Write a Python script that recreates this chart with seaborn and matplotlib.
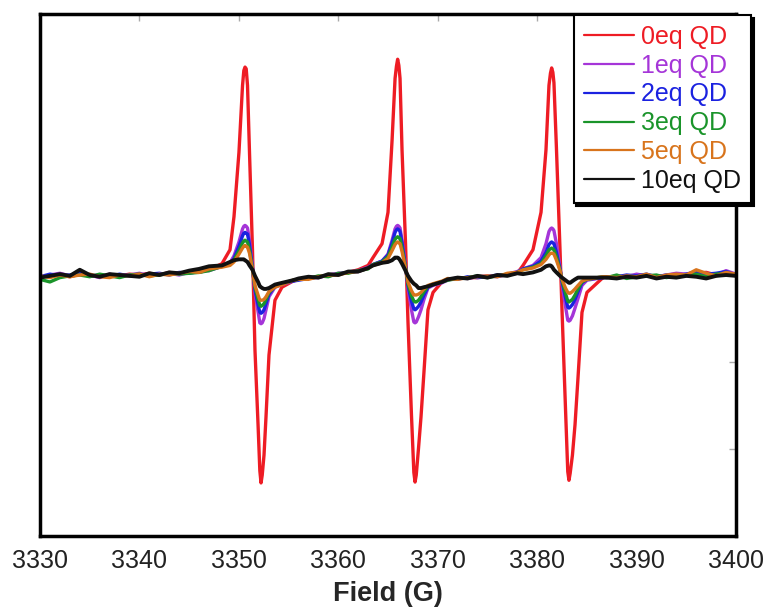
import matplotlib
matplotlib.use("Agg")
import matplotlib.pyplot as plt
import seaborn as sns
import pandas as pd

# Magnetic field axis (G): coarse on the baseline, dense across the three hyperfine lines
field = [
    3330, 3331, 3332, 3333, 3334, 3335, 3336, 3337, 3338, 3339, 3340, 3341, 3342, 3343, 3344, 3345, 3346, 3347,
    3348.30, 3349.11, 3349.51, 3350.01, 3350.37, 3350.50, 3350.62, 3350.74, 3350.87, 3351.07, 3351.37, 3351.62,
    3351.93, 3352.11, 3352.23, 3352.35, 3352.53, 3352.73, 3353.03, 3353.63, 3354.34, 3355.45,
    3356, 3357, 3358, 3359, 3360, 3361, 3362, 3363,
    3363.49, 3364.40, 3365.00, 3365.41, 3365.71, 3365.85, 3365.97, 3366.09, 3366.21, 3366.41, 3366.76, 3367.01,
    3367.36, 3367.60, 3367.72, 3367.84, 3368.07, 3368.32, 3368.62, 3369.02, 3369.53, 3370.43,
    3371, 3372, 3373, 3374, 3375, 3376, 3377, 3378,
    3378.58, 3379.58, 3380.39, 3380.89, 3381.19, 3381.34, 3381.46, 3381.58, 3381.69, 3381.94, 3382.30, 3382.50,
    3382.85, 3383.08, 3383.20, 3383.32, 3383.55, 3383.81, 3384.11, 3384.51, 3385.01, 3386.62,
    3387, 3388, 3389, 3390, 3391, 3392, 3393, 3394, 3395, 3396, 3397, 3398, 3399, 3400,
]

# EPR signal (arb. units) for each QD loading
eq0 = [
    -0.02, -0.01, 0.00, -0.02, 0.01, -0.01, -0.02, 0.00, -0.01, 0.01, 0.00, 0.02, 0.00, 0.03, 0.01, 0.04, 0.03, 0.06,
    0.13, 0.29, 0.67, 1.41, 2.18, 2.35, 2.39, 2.37, 2.18, 1.41, 0.29, -0.86, -1.72, -2.25, -2.39, -2.30, -2.07, -1.63,
    -0.92, -0.29, -0.14, -0.07,
    -0.05, -0.04, -0.02, -0.01, 0.01, 0.03, 0.06, 0.11,
    0.20, 0.36, 0.72, 1.55, 2.26, 2.40, 2.48, 2.41, 2.26, 1.44, 0.37, -0.54, -1.61, -2.27, -2.38, -2.30, -1.99, -1.63,
    -1.11, -0.40, -0.20, -0.08,
    -0.05, -0.04, -0.03, -0.03, -0.02, -0.01, 0.00, 0.02,
    0.11, 0.29, 0.72, 1.44, 2.18, 2.32, 2.38, 2.33, 2.21, 1.46, 0.29, -0.40, -1.53, -2.26, -2.36, -2.28, -2.07, -1.72,
    -1.18, -0.43, -0.20, -0.03,
    -0.02, -0.03, -0.01, -0.02, 0.00, -0.02, -0.01, 0.01, -0.01, 0.02, 0.03, 0.00, 0.02, 0.00,
]
eq1 = [
    -0.03, 0.00, 0.02, -0.01, 0.01, 0.00, -0.03, 0.01, -0.02, 0.00, 0.02, -0.01, 0.01, 0.02, 0.00, 0.03, 0.05, 0.05,
    0.10, 0.14, 0.22, 0.38, 0.53, 0.56, 0.57, 0.56, 0.54, 0.40, 0.10, -0.20, -0.42, -0.55, -0.56, -0.55, -0.50, -0.40,
    -0.25, -0.14, -0.11, -0.07,
    -0.05, -0.03, -0.03, 0.00, 0.02, 0.03, 0.05, 0.09,
    0.12, 0.16, 0.24, 0.40, 0.53, 0.56, 0.57, 0.56, 0.54, 0.40, 0.12, -0.15, -0.40, -0.54, -0.55, -0.54, -0.48, -0.40,
    -0.28, -0.15, -0.12, -0.09,
    -0.06, -0.03, -0.04, -0.02, -0.01, -0.02, 0.01, 0.04,
    0.07, 0.11, 0.20, 0.36, 0.50, 0.53, 0.54, 0.53, 0.51, 0.36, 0.09, -0.10, -0.36, -0.52, -0.53, -0.52, -0.47, -0.38,
    -0.27, -0.12, -0.06, -0.03,
    -0.03, -0.01, -0.02, 0.01, -0.01, -0.02, 0.00, 0.02, 0.01, 0.04, 0.02, 0.00, 0.05, 0.01,
]
eq2 = [
    -0.02, 0.01, -0.01, 0.00, 0.02, -0.01, 0.00, -0.02, 0.01, -0.01, 0.00, 0.01, 0.02, 0.00, 0.03, 0.02, 0.04, 0.06,
    0.10, 0.13, 0.19, 0.33, 0.45, 0.48, 0.49, 0.48, 0.47, 0.35, 0.08, -0.17, -0.34, -0.43, -0.44, -0.43, -0.40, -0.33,
    -0.22, -0.13, -0.10, -0.07,
    -0.06, -0.04, -0.02, -0.01, 0.01, 0.03, 0.04, 0.08,
    0.12, 0.16, 0.23, 0.37, 0.49, 0.52, 0.53, 0.52, 0.50, 0.37, 0.10, -0.12, -0.30, -0.39, -0.40, -0.39, -0.36, -0.31,
    -0.23, -0.14, -0.11, -0.08,
    -0.05, -0.05, -0.02, -0.03, -0.02, 0.00, 0.00, 0.03,
    0.07, 0.10, 0.16, 0.26, 0.35, 0.37, 0.38, 0.37, 0.36, 0.26, 0.07, -0.07, -0.26, -0.37, -0.38, -0.37, -0.34, -0.28,
    -0.19, -0.09, -0.05, -0.03,
    -0.02, -0.02, 0.00, -0.01, 0.01, -0.02, 0.00, -0.01, 0.01, 0.03, 0.01, 0.02, 0.04, 0.00,
]
eq3 = [
    -0.05, -0.08, -0.03, -0.01, 0.00, -0.02, 0.01, -0.01, -0.03, 0.00, 0.01, -0.01, 0.00, 0.02, 0.01, 0.02, 0.03, 0.05,
    0.10, 0.12, 0.17, 0.28, 0.37, 0.39, 0.40, 0.39, 0.38, 0.29, 0.07, -0.14, -0.28, -0.35, -0.36, -0.35, -0.33, -0.28,
    -0.20, -0.13, -0.10, -0.06,
    -0.05, -0.04, -0.01, -0.02, 0.02, 0.02, 0.05, 0.07,
    0.12, 0.15, 0.21, 0.32, 0.41, 0.43, 0.44, 0.43, 0.42, 0.31, 0.09, -0.10, -0.24, -0.30, -0.31, -0.31, -0.29, -0.25,
    -0.19, -0.13, -0.11, -0.08,
    -0.06, -0.04, -0.03, -0.01, -0.03, -0.01, 0.01, 0.03,
    0.06, 0.09, 0.13, 0.22, 0.29, 0.30, 0.31, 0.30, 0.29, 0.21, 0.06, -0.06, -0.21, -0.30, -0.31, -0.30, -0.28, -0.23,
    -0.16, -0.08, -0.05, -0.02,
    -0.03, 0.00, -0.04, -0.02, -0.01, 0.00, -0.03, -0.01, 0.00, 0.01, -0.02, 0.01, 0.02, 0.00,
]
eq5 = [
    -0.01, -0.03, 0.00, -0.02, 0.00, 0.01, -0.02, -0.03, 0.00, -0.01, 0.01, -0.02, 0.01, 0.00, 0.02, 0.04, 0.03, 0.07,
    0.09, 0.11, 0.15, 0.24, 0.31, 0.33, 0.34, 0.33, 0.32, 0.25, 0.06, -0.12, -0.23, -0.29, -0.29, -0.29, -0.28, -0.25,
    -0.19, -0.14, -0.11, -0.06,
    -0.05, -0.05, -0.02, 0.00, 0.00, 0.03, 0.04, 0.08,
    0.11, 0.14, 0.19, 0.28, 0.35, 0.37, 0.38, 0.37, 0.36, 0.27, 0.08, -0.08, -0.18, -0.23, -0.23, -0.23, -0.22, -0.20,
    -0.16, -0.12, -0.10, -0.07,
    -0.04, -0.05, -0.03, -0.02, -0.01, -0.02, 0.02, 0.03,
    0.06, 0.08, 0.12, 0.18, 0.23, 0.25, 0.25, 0.25, 0.24, 0.17, 0.05, -0.05, -0.15, -0.20, -0.21, -0.21, -0.19, -0.16,
    -0.12, -0.07, -0.05, -0.02,
    -0.02, -0.03, -0.01, -0.02, 0.01, -0.03, 0.00, 0.01, 0.00, 0.06, 0.02, -0.01, 0.03, 0.01,
]
eq10 = [
    -0.03, -0.01, 0.01, -0.01, 0.06, 0.00, -0.02, 0.01, 0.00, -0.01, -0.02, 0.02, 0.00, 0.03, 0.02, 0.05, 0.07, 0.10,
    0.11, 0.15, 0.17, 0.18, 0.18, 0.18, 0.17, 0.16, 0.15, 0.11, 0.06, -0.01, -0.08, -0.13, -0.14, -0.15, -0.16, -0.16,
    -0.15, -0.11, -0.09, -0.06,
    -0.04, -0.02, -0.03, 0.01, 0.00, 0.04, 0.04, 0.08,
    0.11, 0.14, 0.15, 0.17, 0.20, 0.20, 0.20, 0.19, 0.17, 0.13, 0.05, -0.01, -0.07, -0.10, -0.11, -0.12, -0.15, -0.15,
    -0.14, -0.13, -0.11, -0.08,
    -0.05, -0.03, -0.04, -0.01, -0.03, 0.00, -0.01, 0.02,
    0.01, 0.03, 0.06, 0.10, 0.11, 0.11, 0.10, 0.08, 0.06, 0.03, -0.01, -0.03, -0.06, -0.08, -0.09, -0.09, -0.07, -0.05,
    -0.03, -0.03, -0.03, -0.03,
    -0.03, -0.04, -0.02, -0.03, -0.01, -0.04, -0.02, -0.03, -0.01, -0.02, -0.04, -0.01, 0.00, -0.01,
]

labels = ["0eq QD", "1eq QD", "2eq QD", "3eq QD", "5eq QD", "10eq QD"]
colors = ["#ee1c24", "#a535d8", "#1b22e0", "#1a942a", "#d8741c", "#111111"]
widths = [2.4, 2.4, 2.4, 2.4, 2.4, 2.8]
x_ticks = [3330, 3340, 3350, 3360, 3370, 3380, 3390, 3400]
y_ticks = [-2, -1, 0, 1, 2]

sns.set_theme(style="white")
plt.rcParams["font.family"] = ["Liberation Sans", "DejaVu Sans"]

fig = plt.figure(figsize=(7.68, 6.16), dpi=100)
ax = fig.add_axes([40 / 768, 1 - 536 / 616, 696 / 768, 522 / 616])

for vals, lab, col, lw in zip([eq0, eq1, eq2, eq3, eq5, eq10], labels, colors, widths):
    df = pd.DataFrame({"field": field, "signal": vals})
    sns.lineplot(data=df, x="field", y="signal", color=col, linewidth=lw,
                 label=lab, estimator=None, ax=ax)

ax.set_xlim(3330, 3400)
ax.set_ylim(-3, 3)
ax.set_xticks(x_ticks)
ax.set_xticklabels([str(t) for t in x_ticks])
ax.set_yticks(y_ticks)
ax.set_yticklabels([])
ax.set_ylabel("")
ax.set_xlabel("Field (G)", fontsize=19.5, fontweight="bold", labelpad=6)

ax.tick_params(axis="both", which="major", direction="in", length=5, width=1,
               color="#aaaaaa", top=True, right=True, labelsize=18, pad=9,
               labelcolor="#222222")
for sp in ax.spines.values():
    sp.set_color("black")
    sp.set_linewidth(2.5)

leg = ax.legend(loc="upper right", bbox_to_anchor=(751 / 768, 1 - 15 / 616),
                bbox_transform=fig.transFigure, fontsize=18, labelcolor="linecolor",
                frameon=True, fancybox=False, edgecolor="black", framealpha=1,
                shadow={"color": "black", "alpha": 1.0},
                handlelength=2.0, handletextpad=0.3, labelspacing=0.19,
                borderpad=0.4, borderaxespad=0)
leg.get_frame().set_linewidth(1.5)
for line in leg.get_lines():
    line.set_linewidth(1.6)

fig.savefig("out.png", dpi=100)
